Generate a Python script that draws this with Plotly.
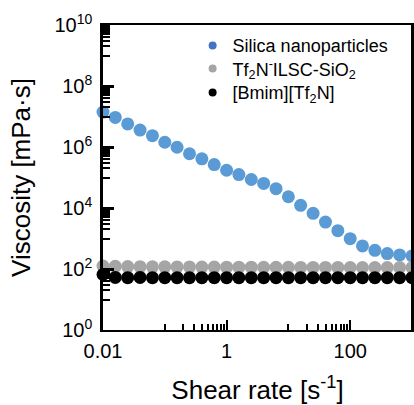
import plotly.graph_objects as go

# Shear rate [1/s]
shear_rate = [0.01, 0.0158, 0.0251, 0.0398, 0.0631, 0.1, 0.158, 0.251, 0.398, 0.631,
              1.0, 1.58, 2.51, 3.98, 6.31, 10.0, 15.8, 25.1, 39.8, 63.1,
              100.0, 158.0, 251.0, 398.0, 631.0, 1000.0]

# Viscosity [mPa s]
silica = [1.40e7, 9.3e6, 5.7e6, 3.6e6, 2.36e6, 1.43e6, 9.8e5, 6.0e5, 4.1e5, 2.66e5,
          1.73e5, 1.25e5, 8.6e4, 6.4e4, 4.3e4, 2.34e4, 1.22e4, 6.7e3, 3.46e3, 1.81e3,
          990, 570, 410, 320, 290, 268]
ilsc = [125, 122, 120, 119, 118, 118, 117, 117, 116, 116,
        115, 115, 115, 114, 114, 114, 113, 113, 113, 113,
        112, 112, 112, 112, 112, 112]
bmim = [66, 53, 52, 53, 52, 52, 52, 52, 52, 52,
        52, 52, 52, 52, 52, 52, 52, 52, 52, 52,
        52, 52, 52, 52, 52, 52]

names = ["Silica nanoparticles",
         "Tf<sub>2</sub>N<sup>-</sup>ILSC-SiO<sub>2</sub>",
         "[Bmim][Tf<sub>2</sub>N]"]
series = [silica, ilsc, bmim]
colors = ["#5B9BD5", "#A5A5A5", "#000000"]
legend_colors = ["#4472C4", "#A5A5A5", "#000000"]

x_tickvals = [0.01, 1, 100]
x_ticktext = ["0.01", "1", "100"]
x_minor = [0.1, 0.2, 0.3, 0.4, 0.5, 0.6, 0.7, 0.8, 0.9,
           10, 20, 30, 40, 50, 60, 70, 80, 90]
y_tickvals = [1, 1e2, 1e4, 1e6, 1e8, 1e10]
y_ticktext = ["10<sup>0</sup>", "10<sup>2</sup>", "10<sup>4</sup>",
              "10<sup>6</sup>", "10<sup>8</sup>", "10<sup>10</sup>"]
y_minor = [k * 10 ** d for d in (1, 3, 5, 7, 9) for k in range(1, 10)]

FONT = "Arial, Liberation Sans, sans-serif"

fig = go.Figure()
for vals, c in zip(series, colors):
    fig.add_trace(go.Scatter(x=shear_rate, y=vals, mode="markers",
                             marker=dict(size=13, color=c),
                             showlegend=False, cliponaxis=False))
legend_ids = ["legend", "legend2", "legend3"]
for n, c, lid in zip(names, legend_colors, legend_ids):
    fig.add_trace(go.Scatter(x=[None], y=[None], mode="markers", name=n,
                             marker=dict(size=8, color=c), legend=lid))

leg_common = dict(x=0.29, xanchor="left", yanchor="middle",
                  bgcolor="rgba(0,0,0,0)", font=dict(size=18, family=FONT, color="black"),
                  itemwidth=30)

fig.update_layout(
    width=414, height=405,
    margin=dict(l=103, r=2, t=25, b=75),
    paper_bgcolor="white", plot_bgcolor="white",
    font=dict(family=FONT, color="black", size=20),
    legend=dict(y=0.932, **leg_common),
    legend2=dict(y=0.856, **leg_common),
    legend3=dict(y=0.778, **leg_common),
    xaxis=dict(type="log", range=[-2, 3], showgrid=False, zeroline=False,
               automargin=False,
               showline=True, linecolor="black", linewidth=2, mirror=True,
               tickmode="array", tickvals=x_tickvals, ticktext=x_ticktext,
               ticks="inside", ticklen=10, tickwidth=2, tickcolor="black",
               ticklabelstandoff=2,
               minor=dict(tickmode="array", tickvals=x_minor, ticks="inside",
                          ticklen=6, tickwidth=1.5, tickcolor="black", showgrid=False),
               tickfont=dict(size=20),
               title=dict(text="Shear rate [s<sup>-1</sup>]", font=dict(size=26), standoff=24)),
    yaxis=dict(type="log", range=[0, 10], showgrid=False, zeroline=False,
               automargin=False,
               showline=True, linecolor="black", linewidth=2.5, mirror=True,
               tickmode="array", tickvals=y_tickvals, ticktext=y_ticktext,
               ticks="inside", ticklen=11, tickwidth=2.5, tickcolor="black",
               ticklabelstandoff=4,
               minor=dict(tickmode="array", tickvals=y_minor, ticks="inside",
                          ticklen=7, tickwidth=1.5, tickcolor="black", showgrid=False),
               tickfont=dict(size=20),
               title=dict(text="Viscosity [mPa·s]", font=dict(size=26), standoff=17)),
    shapes=[dict(type="line", xref="paper", yref="paper", x0=1, x1=1, y0=0, y1=1,
                 line=dict(color="black", width=2), layer="above")],
)

fig.write_html("out.html", config={"displayModeBar": False},
               post_script="document.body.style.margin='0';")
